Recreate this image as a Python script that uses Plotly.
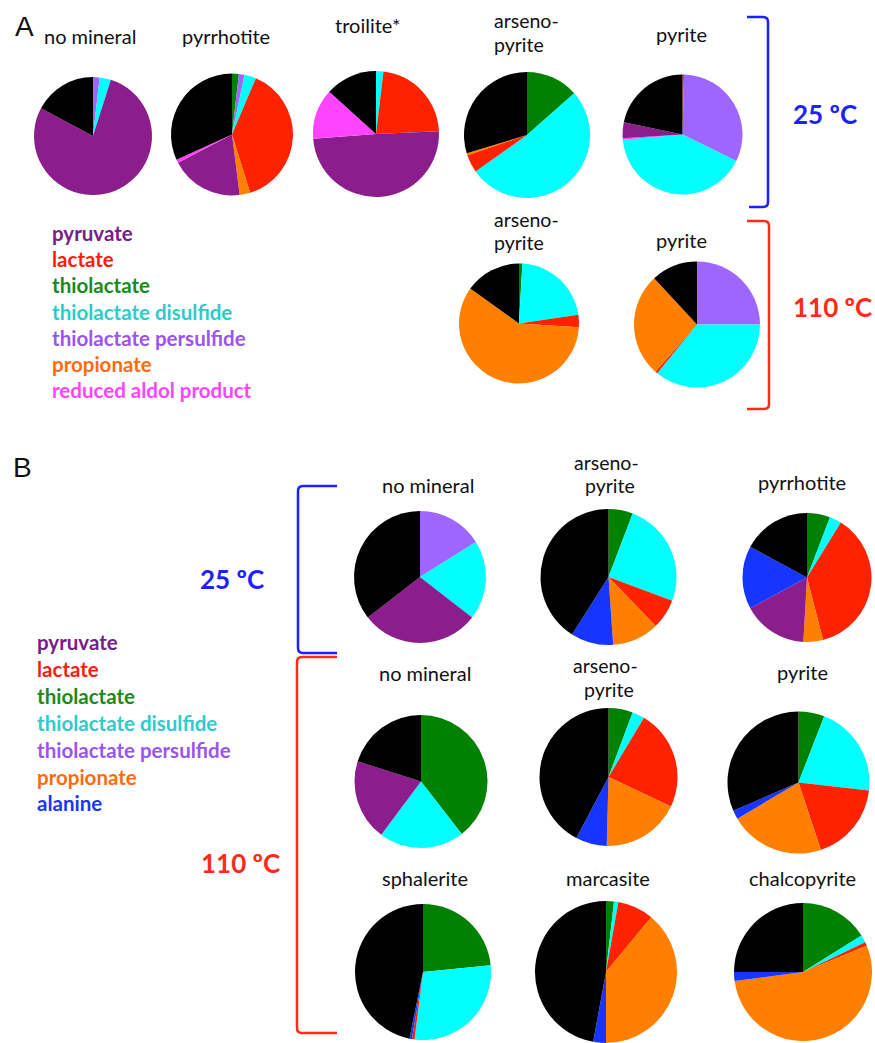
import plotly.graph_objects as go

W, H = 875, 1043

# ---- categories -------------------------------------------------------------
PYR = "pyruvate"
LAC = "lactate"
THI = "thiolactate"
DIS = "thiolactate disulfide"
PER = "thiolactate persulfide"
PRO = "propionate"
ALD = "reduced aldol product"
ALA = "alanine"
OTH = "other"

# ---- panel A: product distribution (%), slices listed clockwise from 12 o'clock
a25_none_labels = [PER, DIS, PYR, OTH]
a25_none_values = [1.8, 3.1, 77.9, 17.2]

a25_pyrrhotite_labels = [THI, PER, DIS, LAC, PRO, PYR, ALD, OTH]
a25_pyrrhotite_values = [1.8, 1.5, 3.1, 38.8, 2.8, 19.3, 0.9, 31.8]

a25_troilite_labels = [DIS, LAC, PYR, ALD, OTH]
a25_troilite_values = [1.9, 22.4, 49.5, 12.9, 13.3]

a25_arsenopyrite_labels = [THI, DIS, LAC, PRO, OTH]
a25_arsenopyrite_values = [13.5, 51.7, 4.6, 0.5, 29.7]

a25_pyrite_labels = [LAC, PER, DIS, ALD, PYR, OTH]
a25_pyrite_values = [0.4, 31.9, 41.3, 0.4, 4.3, 21.7]

a110_arsenopyrite_labels = [THI, DIS, LAC, PRO, OTH]
a110_arsenopyrite_values = [0.9, 21.8, 3.3, 58.9, 15.1]

a110_pyrite_labels = [PER, DIS, LAC, PRO, OTH]
a110_pyrite_values = [25.0, 35.9, 0.6, 26.6, 11.9]

# ---- panel B ----------------------------------------------------------------
b25_none_labels = [PER, DIS, PYR, OTH]
b25_none_values = [16.1, 19.4, 29.0, 35.5]

b25_arsenopyrite_labels = [THI, DIS, LAC, PRO, ALA, OTH]
b25_arsenopyrite_values = [5.8, 24.9, 7.1, 11.1, 10.1, 41.0]

b25_pyrrhotite_labels = [THI, DIS, LAC, PRO, PYR, ALA, OTH]
b25_pyrrhotite_values = [5.8, 3.0, 37.2, 4.9, 16.2, 15.8, 17.1]

b110_none_labels = [THI, DIS, PYR, OTH]
b110_none_values = [39.5, 20.7, 19.7, 20.1]

b110_arsenopyrite_labels = [THI, DIS, LAC, PRO, ALA, OTH]
b110_arsenopyrite_values = [5.7, 2.9, 23.4, 18.4, 7.3, 42.3]

b110_pyrite_labels = [THI, DIS, LAC, PRO, ALA, OTH]
b110_pyrite_values = [5.9, 20.9, 18.1, 21.6, 2.0, 31.5]

b110_sphalerite_labels = [THI, DIS, LAC, ALA, OTH]
b110_sphalerite_values = [23.4, 28.6, 0.6, 0.6, 46.8]

b110_marcasite_labels = [THI, DIS, LAC, PRO, ALA, OTH]
b110_marcasite_values = [1.8, 1.0, 8.2, 39.0, 2.9, 47.1]

b110_chalcopyrite_labels = [THI, DIS, LAC, PRO, ALA, OTH]
b110_chalcopyrite_values = [16.1, 1.8, 0.9, 54.1, 2.1, 25.0]

legend_a = [PYR, LAC, THI, DIS, PER, PRO, ALD]
legend_b = [PYR, LAC, THI, DIS, PER, PRO, ALA]

# ---- styling ----------------------------------------------------------------
SLICE_COLORS = {
    PYR: "#8C1D8C",
    LAC: "#FF2200",
    THI: "#008200",
    DIS: "#00FFFF",
    PER: "#9E66FF",
    PRO: "#FF7F00",
    ALD: "#FF44FF",
    ALA: "#1636FF",
    OTH: "#000000",
}
TEXT_COLORS = {
    PYR: "#74208A",
    LAC: "#FF1A10",
    THI: "#1A8A1A",
    DIS: "#2FCBCB",
    PER: "#9A55EE",
    PRO: "#FF6A10",
    ALD: "#FF44FF",
    ALA: "#1A35FF",
}
BLUE = "#1A22FF"
RED = "#FF2A1A"
FONT = "Lato"


def px_x(x):
    return x / W


def px_y(y):
    return 1 - y / H


fig = go.Figure()


def add_pie(labels, values, cx, cy, r):
    fig.add_trace(go.Pie(
        labels=labels,
        values=values,
        sort=False,
        direction="clockwise",
        rotation=0,
        marker=dict(colors=[SLICE_COLORS[l] for l in labels],
                    line=dict(width=0)),
        textinfo="none",
        hoverinfo="label+percent",
        showlegend=False,
        domain=dict(x=[px_x(cx - r), px_x(cx + r)],
                    y=[px_y(cy + r), px_y(cy - r)]),
    ))


# panel A pies
add_pie(a25_none_labels, a25_none_values, 93, 136, 59)
add_pie(a25_pyrrhotite_labels, a25_pyrrhotite_values, 232, 134.5, 61)
add_pie(a25_troilite_labels, a25_troilite_values, 376, 134, 63)
add_pie(a25_arsenopyrite_labels, a25_arsenopyrite_values, 527, 135, 63)
add_pie(a25_pyrite_labels, a25_pyrite_values, 682.5, 134.5, 60)
add_pie(a110_arsenopyrite_labels, a110_arsenopyrite_values, 519, 323.5, 60)
add_pie(a110_pyrite_labels, a110_pyrite_values, 697, 324.5, 63)

# panel B pies
add_pie(b25_none_labels, b25_none_values, 420, 577, 66)
add_pie(b25_arsenopyrite_labels, b25_arsenopyrite_values, 608.5, 577, 68)
add_pie(b25_pyrrhotite_labels, b25_pyrrhotite_values, 807, 577.5, 64.5)
add_pie(b110_none_labels, b110_none_values, 421, 781.5, 66.5)
add_pie(b110_arsenopyrite_labels, b110_arsenopyrite_values, 608.5, 777, 69)
add_pie(b110_pyrite_labels, b110_pyrite_values, 798.5, 782.5, 71)
add_pie(b110_sphalerite_labels, b110_sphalerite_values, 423, 972, 68)
add_pie(b110_marcasite_labels, b110_marcasite_values, 606, 972, 71)
add_pie(b110_chalcopyrite_labels, b110_chalcopyrite_values, 803, 972, 69)

annotations = []


def text(s, x, y, size=20, color="#111111", bold=False, anchor="center",
         family=FONT):
    annotations.append(dict(
        text=f"<b>{s}</b>" if bold else s,
        x=px_x(x), y=px_y(y), xref="paper", yref="paper",
        xanchor=anchor, yanchor="middle", showarrow=False,
        font=dict(family=family, size=size, color=color),
    ))


# panel letters
text("A", 24, 26, size=28, family="Liberation Sans")
text("B", 22, 467, size=28, family="Liberation Sans")

# panel A titles
text("no mineral", 89.5, 36)
text("pyrrhotite", 226, 36)
text("troilite*", 367.5, 25)
text("arseno-", 492, 21, size=19.5, anchor="left")
text("pyrite", 492, 45, size=19.5, anchor="left")
text("pyrite", 681, 34)
text("arseno-", 492, 219, size=19.5, anchor="left")
text("pyrite", 492, 243, size=19.5, anchor="left")
text("pyrite", 681, 240)

# panel B titles
text("no mineral", 428, 485)
text("arseno-", 606, 462, size=19.5)
text("pyrite", 610, 486, size=19.5)
text("pyrrhotite", 802, 482)
text("no mineral", 425, 673)
text("arseno-", 605, 665, size=19.5)
text("pyrite", 609, 689, size=19.5)
text("pyrite", 802, 672)
text("sphalerite", 425, 878)
text("marcasite", 608, 878)
text("chalcopyrite", 802, 878)

# temperature labels
text("25 ºC", 825, 114, size=26, color=BLUE, bold=True)
text("110 ºC", 832, 307, size=26, color=RED, bold=True)
text("25 ºC", 232, 579, size=26, color=BLUE, bold=True)
text("110 ºC", 240, 863, size=26, color=RED, bold=True)

# colour keys
for i, name in enumerate(legend_a):
    text(name, 50, 233 + i * 26.2, size=20.5, color=TEXT_COLORS[name],
         bold=True, anchor="left")
for i, name in enumerate(legend_b):
    text(name, 35, 642 + i * 26.9, size=20.5, color=TEXT_COLORS[name],
         bold=True, anchor="left")


def bracket(points, color, rad=5):
    """Polyline through pixel points with rounded inner corners."""
    p = [(px_x(x), px_y(y)) for x, y in points]
    d = f"M {p[0][0]},{p[0][1]}"
    for i in range(1, len(points) - 1):
        (x0, y0), (x1, y1), (x2, y2) = points[i - 1], points[i], points[i + 1]

        def toward(a, b, dist):
            dx, dy = b[0] - a[0], b[1] - a[1]
            n = (dx * dx + dy * dy) ** 0.5
            return (a[0] + dx / n * dist, a[1] + dy / n * dist)

        s = toward((x1, y1), (x0, y0), rad)
        e = toward((x1, y1), (x2, y2), rad)
        d += f" L {px_x(s[0])},{px_y(s[1])}"
        d += f" Q {px_x(x1)},{px_y(y1)} {px_x(e[0])},{px_y(e[1])}"
    d += f" L {p[-1][0]},{p[-1][1]}"
    return dict(type="path", path=d, xref="paper", yref="paper",
                line=dict(color=color, width=2.5))


shapes = [
    bracket([(747, 17), (768, 17), (768, 207), (749, 207)], BLUE),
    bracket([(747, 221), (769, 221), (769, 409), (747, 409)], RED),
    bracket([(337, 486), (298, 486), (298, 653), (337, 653)], BLUE),
    bracket([(337, 657), (297, 657), (297, 1033), (337, 1033)], RED),
]

fig.update_layout(
    width=W, height=H,
    margin=dict(l=0, r=0, t=0, b=0),
    paper_bgcolor="white",
    plot_bgcolor="white",
    showlegend=False,
    annotations=annotations,
    shapes=shapes,
)

fig.write_html("out.html")
